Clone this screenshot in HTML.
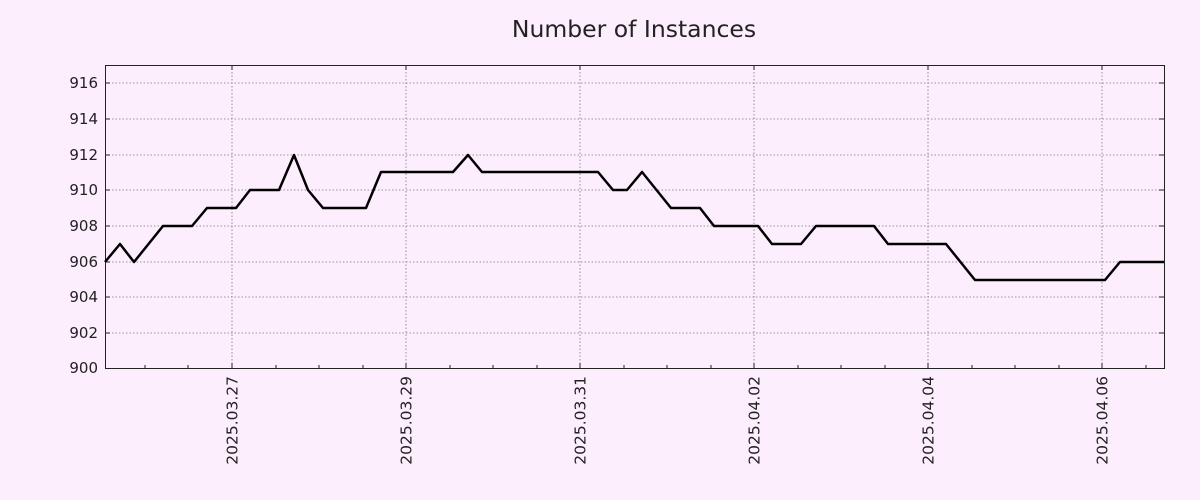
<!DOCTYPE html>
<html><head><style>
body{margin:0;background:#fdeefd;}
svg{display:block;font-family:"DejaVu Sans","Liberation Sans",sans-serif;}
</style></head><body>
<svg width="1200" height="500" viewBox="0 0 1200 500">
<rect width="1200" height="500" fill="#fdeefd"/>
<text x="634" y="37" text-anchor="middle" font-size="23.5" fill="#222">Number of Instances</text>
<g stroke="#777" stroke-width="0.8" stroke-dasharray="1.5,2">
<line x1="105" x2="1164" y1="83" y2="83"/><line x1="105" x2="1164" y1="119" y2="119"/>
<line x1="105" x2="1164" y1="155" y2="155"/><line x1="105" x2="1164" y1="190" y2="190"/>
<line x1="105" x2="1164" y1="226" y2="226"/><line x1="105" x2="1164" y1="262" y2="262"/>
<line x1="105" x2="1164" y1="297" y2="297"/><line x1="105" x2="1164" y1="333" y2="333"/>
<line x1="232" x2="232" y1="65" y2="368"/><line x1="406" x2="406" y1="65" y2="368"/>
<line x1="580" x2="580" y1="65" y2="368"/><line x1="754" x2="754" y1="65" y2="368"/>
<line x1="928" x2="928" y1="65" y2="368"/><line x1="1102" x2="1102" y1="65" y2="368"/>
</g>
<rect x="105.5" y="65.5" width="1059" height="303" fill="none" stroke="#222" stroke-width="1"/>
<g stroke="#222" stroke-width="1">
<path d="M105 83h5M105 119h5M105 155h5M105 190h5M105 226h5M105 262h5M105 297h5M105 333h5M1164 83h-5M1164 119h-5M1164 155h-5M1164 190h-5M1164 226h-5M1164 262h-5M1164 297h-5M1164 333h-5"/>
<path d="M232 368v-5M406 368v-5M580 368v-5M754 368v-5M928 368v-5M1102 368v-5M232 65v5M406 65v5M580 65v5M754 65v5M928 65v5M1102 65v5"/>
<path d="M145 368v-3M188 368v-3M276 368v-3M319 368v-3M363 368v-3M450 368v-3M493 368v-3M537 368v-3M624 368v-3M667 368v-3M711 368v-3M798 368v-3M841 368v-3M885 368v-3M972 368v-3M1015 368v-3M1059 368v-3M1146 368v-3"/>
</g>
<g font-size="15" fill="#222" text-anchor="end">
<text x="98" y="88">916</text><text x="98" y="124">914</text><text x="98" y="160">912</text>
<text x="98" y="195">910</text><text x="98" y="231">908</text><text x="98" y="267">906</text>
<text x="98" y="302">904</text><text x="98" y="338">902</text><text x="98" y="373">900</text>
</g>
<g font-size="15.5" fill="#222" text-anchor="end">
<text transform="translate(237.5,376) rotate(-90)">2025.03.27</text>
<text transform="translate(411.5,376) rotate(-90)">2025.03.29</text>
<text transform="translate(585.5,376) rotate(-90)">2025.03.31</text>
<text transform="translate(759.5,376) rotate(-90)">2025.04.02</text>
<text transform="translate(933.5,376) rotate(-90)">2025.04.04</text>
<text transform="translate(1107.5,376) rotate(-90)">2025.04.06</text>
</g>
<polyline fill="none" stroke="#000" stroke-width="2.5" stroke-linejoin="round" points="105,262 120,244 134,262 163,226 192,226 207,208 236,208 250,190 279,190 294,155 308,190 323,208 366,208 381,172 453,172 468,155 482,172 598,172 613,190 627,190 642,172 671,208 700,208 714,226 758,226 772,244 801,244 816,226 874,226 888,244 946,244 975,280 1105,280 1120,262 1164,262"/>
</svg>
</body></html>
